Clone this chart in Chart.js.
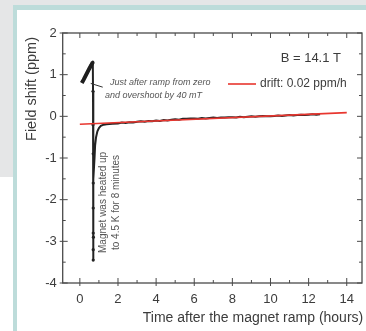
<!DOCTYPE html>
<html>
<head>
<meta charset="utf-8">
<script src="https://cdn.jsdelivr.net/npm/chart.js@4.4.1/dist/chart.umd.min.js"></script>
<style>
    body { margin: 0; width: 366px; height: 331px; overflow: hidden; background: #ffffff; position: relative; }
    .grey { position: absolute; background: #e5e6e7; }
    .teal { position: absolute; background: #bddcda; }
    #wrap { position: absolute; left: 0; top: 0; width: 366px; height: 331px; }
</style>
</head>
<body>
<div class="grey" style="left:0;top:0;width:366px;height:5px"></div>
<div class="grey" style="left:0;top:0;width:13px;height:177px"></div>
<div class="teal" style="left:13px;top:5px;width:353px;height:5px"></div>
<div class="teal" style="left:13px;top:5px;width:4px;height:326px"></div>
<div id="wrap"><canvas id="myChart"></canvas></div>
<script>
// ramp from zero with overshoot (thick part)
var rampTime = [0.1, 0.2, 0.3, 0.4, 0.5, 0.6, 0.68];
var rampShift = [0.8, 0.88, 0.97, 1.06, 1.15, 1.23, 1.3];

// heating drop and recovery + slow drift
var runTime = [0.68, 0.69, 0.69, 0.7, 0.7, 0.7, 0.7, 0.7, 0.7, 0.71, 0.72, 0.74, 0.77, 0.8, 0.85, 0.92, 1.0, 1.1, 1.25, 1.4,
    1.7, 2.0, 2.2, 2.4, 2.6, 2.8, 3.0, 3.2, 3.4, 3.6, 3.8, 4.0, 4.2, 4.4, 4.6, 4.8, 5.0, 5.2, 5.4, 5.6, 5.8, 6.0,
    6.2, 6.4, 6.6, 6.8, 7.0, 7.2, 7.4, 7.6, 7.8, 8.0, 8.2, 8.4, 8.6, 8.8, 9.0, 9.2, 9.4, 9.6, 9.8, 10.0,
    10.2, 10.4, 10.6, 10.8, 11.0, 11.2, 11.4, 11.6, 11.8, 12.0, 12.2, 12.4, 12.6];
var runShift = [1.3, 0.6, -0.2, -0.9, -1.6, -2.2, -2.8, -3.2, -3.45, -2.9, -2.2, -1.5, -1.0, -0.7, -0.5, -0.36, -0.28, -0.23, -0.2, -0.19,
    -0.18, -0.17, -0.15, -0.16, -0.14, -0.15, -0.13, -0.12, -0.13, -0.11, -0.12, -0.1, -0.11, -0.09, -0.1, -0.08, -0.07, -0.08, -0.06, -0.06, -0.05, -0.05,
    -0.06, -0.04, -0.05, -0.04, -0.03, -0.04, -0.03, -0.03, -0.02, -0.02, -0.03, -0.01, -0.02, -0.01, 0.0, -0.01, 0.0, 0.01, 0.0, 0.0,
    0.01, 0.02, 0.01, 0.02, 0.03, 0.02, 0.03, 0.04, 0.03, 0.04, 0.05, 0.04, 0.05];

// linear fit
var fitTime = [0, 14];
var fitShift = [-0.19, 0.09];

var xTicks = [0, 2, 4, 6, 8, 10, 12, 14];
var xMinor = [1, 3, 5, 7, 9, 11, 13];
var yTicks = [-4, -3, -2, -1, 0, 1, 2];
var yMinor = [-3.5, -2.5, -1.5, -0.5, 0.5, 1.5];

function pts(xs, ys) {
    var out = [];
    for (var i = 0; i < xs.length; i++) {
        out.push({x: xs[i], y: ys[i]});
    }
    return out;
}

var FONT = "'Liberation Sans', Arial, sans-serif";
var INK = "#3c3c3c";

var decorPlugin = {
    id: 'decor',
    afterDatasetsDraw: function (chart) {
        var c = chart.ctx;
        var a = chart.chartArea;
        var xs = chart.scales.x;
        var ys = chart.scales.y;
        c.save();
        c.strokeStyle = "#4a4a4a";
        c.lineWidth = 1.3;
        c.strokeRect(a.left, a.top, a.right - a.left, a.bottom - a.top);

        c.lineWidth = 1;
        var i, p;
        for (i = 0; i < xTicks.length; i++) {
            p = xs.getPixelForValue(xTicks[i]);
            c.beginPath(); c.moveTo(p, a.bottom + 3); c.lineTo(p, a.bottom - 5); c.stroke();
            c.beginPath(); c.moveTo(p, a.top); c.lineTo(p, a.top + 5); c.stroke();
        }
        for (i = 0; i < xMinor.length; i++) {
            p = xs.getPixelForValue(xMinor[i]);
            c.beginPath(); c.moveTo(p, a.bottom); c.lineTo(p, a.bottom - 3); c.stroke();
            c.beginPath(); c.moveTo(p, a.top); c.lineTo(p, a.top + 3); c.stroke();
        }
        for (i = 0; i < yTicks.length; i++) {
            p = ys.getPixelForValue(yTicks[i]);
            c.beginPath(); c.moveTo(a.left - 3, p); c.lineTo(a.left + 5, p); c.stroke();
            c.beginPath(); c.moveTo(a.right, p); c.lineTo(a.right - 5, p); c.stroke();
        }
        for (i = 0; i < yMinor.length; i++) {
            p = ys.getPixelForValue(yMinor[i]);
            c.beginPath(); c.moveTo(a.left, p); c.lineTo(a.left + 3, p); c.stroke();
            c.beginPath(); c.moveTo(a.right, p); c.lineTo(a.right - 3, p); c.stroke();
        }

        // pointer from the note to the overshoot
        c.strokeStyle = "#333";
        c.lineWidth = 1;
        c.beginPath();
        c.moveTo(xs.getPixelForValue(0.57), ys.getPixelForValue(0.79));
        c.lineTo(xs.getPixelForValue(1.2), ys.getPixelForValue(0.7));
        c.stroke();

        // legend
        c.strokeStyle = "#e8362f";
        c.lineWidth = 1.6;
        c.beginPath(); c.moveTo(228, 84); c.lineTo(256, 84); c.stroke();

        c.fillStyle = INK;
        c.textBaseline = "middle";
        c.textAlign = "left";
        c.font = "12px " + FONT;
        c.fillText("drift: 0.02 ppm/h", 260, 84);
        c.textAlign = "right";
        c.font = "13px " + FONT;
        c.fillText("B = 14.1 T", 341, 58);

        c.textAlign = "left";
        c.fillStyle = "#555";
        c.font = "italic 9px " + FONT;
        c.fillText("Just after ramp from zero", 110, 82);
        c.fillText("and overshoot by 40 mT", 105, 95);

        c.save();
        c.translate(103, 253);
        c.rotate(-Math.PI / 2);
        c.font = "10px " + FONT;
        c.fillText("Magnet was heated up", 0, 0);
        c.fillText("to 4.5 K for 8 minutes", 3, 13);
        c.restore();

        // axis titles
        c.fillStyle = INK;
        c.textAlign = "center";
        c.font = "14px " + FONT;
        c.fillText("Time after the magnet ramp (hours)", 253, 318);
        c.save();
        c.translate(32, 89);
        c.rotate(-Math.PI / 2);
        c.font = "14.5px " + FONT;
        c.fillText("Field shift (ppm)", 0, 0);
        c.restore();
        c.restore();
    }
};

var ctx = document.getElementById("myChart");
var firstDiagram = new Chart(ctx, {
    type: 'line',
    data: {
        datasets: [{
            data: pts(fitTime, fitShift),
            borderColor: "#e8362f",
            borderWidth: 1.6,
            pointRadius: 0,
            order: 0
        }, {
            data: pts(rampTime, rampShift),
            borderColor: "#1e1e1e",
            borderWidth: 4,
            pointRadius: 0,
            order: 1
        }, {
            data: pts(runTime, runShift),
            borderColor: "#232323",
            borderWidth: 2,
            pointRadius: function (c) { return c.dataIndex < 10 ? 1.6 : 0; },
            pointBackgroundColor: "#222",
            pointBorderWidth: 0,
            order: 1
        }]
    },
    options: {
        responsive: true,
        maintainAspectRatio: false,
        animation: false,
        layout: { padding: { top: 33, right: 3, left: 0, bottom: 0 } },
        plugins: { legend: { display: false }, tooltip: { enabled: false } },
        scales: {
            x: {
                type: 'linear',
                min: -0.9,
                max: 14.8,
                grid: { display: false, drawTicks: false },
                border: { display: false },
                afterBuildTicks: function (s) { s.ticks = xTicks.map(function (v) { return {value: v}; }); },
                afterFit: function (s) { s.height = 48; },
                ticks: { color: INK, font: { family: FONT, size: 13 }, padding: 9, maxRotation: 0 }
            },
            y: {
                type: 'linear',
                min: -4,
                max: 2,
                grid: { display: false, drawTicks: false },
                border: { display: false },
                afterBuildTicks: function (s) { s.ticks = yTicks.map(function (v) { return {value: v}; }); },
                afterFit: function (s) { s.width = 62.7; },
                ticks: { color: INK, font: { family: FONT, size: 13 }, padding: 6 }
            }
        }
    },
    plugins: [decorPlugin]
});
</script>
</body>
</html>
